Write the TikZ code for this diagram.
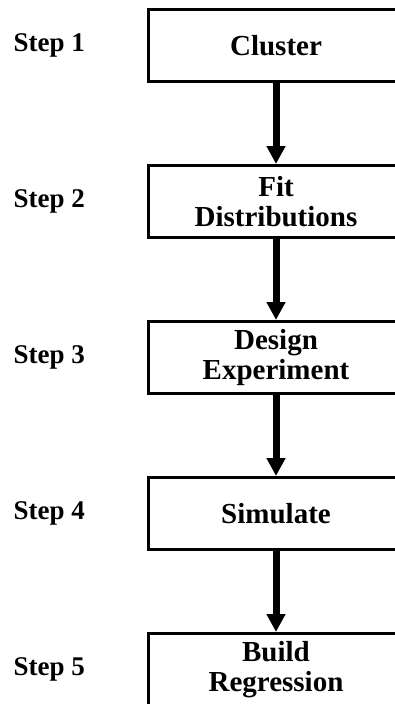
\documentclass[tikz,border=0pt]{standalone}
\usepackage{fontspec}
\setmainfont{Liberation Serif}
\usepackage{tikz}
\usetikzlibrary{arrows.meta,positioning}
\tikzstyle{arrow} = [line width=7pt,-{Triangle[width=18pt,length=18pt]}]
\tikzstyle{stepbox} = [rectangle, minimum width=256pt, minimum height=72pt, text centered, align=center, draw, line width=3pt, font=\bfseries\fontsize{29}{30}\selectfont]
\tikzstyle{steplabel} = [inner sep=0pt, font=\bfseries\fontsize{27}{30}\selectfont]

\begin{document}
\begin{tikzpicture}[node distance=81pt]
\clip (0pt,0pt) rectangle (395pt,-704pt);
\node[stepbox] (cluster) at (276pt,-45.5pt) {Cluster};
\node[stepbox, below=of cluster] (fit) {Fit\\Distributions};
\node[stepbox, below=of fit] (design) {Design\\Experiment};
\node[stepbox, below=of design] (sim) {Simulate};
\node[stepbox, below=of sim] (regr) {Build\\Regression};

\node[steplabel, left=61.5pt of cluster] (s1) {Step 1};
\node[steplabel, left=61.5pt of fit] (s2) {Step 2};
\node[steplabel, left=61.5pt of design] (s3) {Step 3};
\node[steplabel, left=61.5pt of sim] (s4) {Step 4};
\node[steplabel, left=61.5pt of regr] (s5) {Step 5};

\draw[arrow] (cluster) -- (fit);
\draw[arrow] (fit) -- (design);
\draw[arrow] (design) -- (sim);
\draw[arrow] (sim) -- (regr);
\end{tikzpicture}
\end{document}
